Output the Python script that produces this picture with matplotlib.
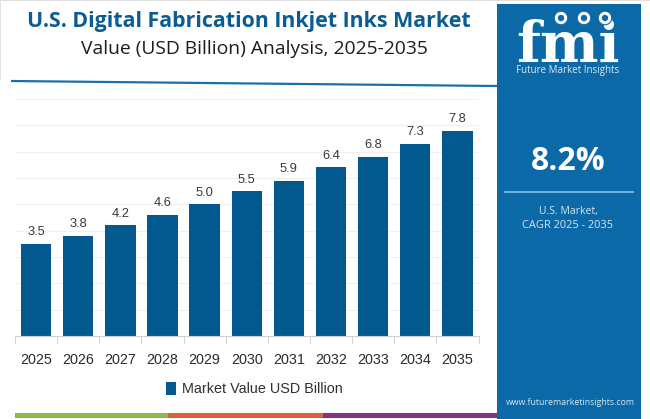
import matplotlib
matplotlib.use("Agg")
import matplotlib.pyplot as plt
from matplotlib.patches import Rectangle, Circle

years = ["2025","2026","2027","2028","2029","2030","2031","2032","2033","2034","2035"]
values = [3.5,3.8,4.2,4.6,5.0,5.5,5.9,6.4,6.8,7.3,7.8]
series_name = "Market Value USD Billion"
title = "U.S. Digital Fabrication Inkjet Inks Market"
subtitle = "Value (USD Billion) Analysis, 2025-2035"
yticks = [0,1,2,3,4,5,6,7,8,9]

W, H = 650, 419
BAR = "#03598f"; PANEL = "#0b69a8"; TITLE = "#0a5d94"
fig = plt.figure(figsize=(6.5, 4.19), dpi=100, facecolor="white")

# overlay in pixel coordinates
bg = fig.add_axes([0,0,1,1], zorder=0)
bg.set_xlim(0,W); bg.set_ylim(H,0); bg.axis("off")

# plot
ax = fig.add_axes([15/W, (H-336)/H, (478.5-15)/W, (336-99)/H], zorder=1)
ax.patch.set_alpha(0)
bars = ax.bar(years, values, width=0.72, color=BAR, label=series_name)
ax.set_xlim(-0.5, 10.5); ax.set_ylim(0, 9)
ax.set_yticks(yticks); ax.tick_params(axis="y", left=False, labelleft=False)
ax.grid(axis="y", color="#f0f0f0", lw=0.8); ax.set_axisbelow(True)
for s in ["top","left","right"]:
    ax.spines[s].set_visible(False)
ax.spines["bottom"].set_color("#cfcfcf"); ax.spines["bottom"].set_linewidth(0.8)
ax.set_xticks([i-0.5 for i in range(12)], minor=True)
ax.tick_params(axis="x", which="minor", length=6, color="#d5d5d5", width=0.8, direction="out")
ax.tick_params(axis="x", which="major", length=0, pad=12, labelsize=10.4, labelcolor="#2b2b2b")
for t in ax.get_xticklabels():
    t.set_family("Liberation Sans")
ax.bar_label(bars, labels=[f"{v:.1f}" for v in values], padding=4, fontsize=9.3,
             color="#3a3a3a", family="Liberation Sans")
ax.legend(loc="center", bbox_to_anchor=(239/463.5, (336-389)/237), frameon=False, ncols=1,
          prop={"family":"Liberation Sans","size":10.4}, handlelength=0.72, handleheight=1.0,
          handletextpad=0.4, labelcolor="#303030")

# header
bg.text(249, 21, title, ha="center", va="center", fontsize=15.4, fontweight="bold", color=TITLE, family="Open Sans")
bg.text(254, 49.5, subtitle, ha="center", va="center", fontsize=13.9, color="#1c1c1c", family="Open Sans")
bg.plot([11,497],[81,86], color="#1b6fa8", lw=1.6, solid_capstyle="butt")
# faint page edge
bg.add_patch(Rectangle((0,0),W,1.5,color="#dedede",lw=0))
bg.add_patch(Rectangle((0,0),1.2,80,color="#e2e2e2",lw=0))

# bottom stripe
for x0,x1,c in [(15,168,"#8cbb47"),(168,323,"#dd6236"),(323,497,"#8a2f83")]:
    bg.add_patch(Rectangle((x0,413),x1-x0,4.5,color=c,lw=0))

# right panel
bg.add_patch(Rectangle((497,4),144,415,color=PANEL,lw=0))
bg.text(568, 62, "fmi", ha="center", va="baseline", fontsize=40, fontweight="bold",
        color="white", family="DejaVu Serif")
for y in range(27,64,4):
    bg.plot([512,624],[y,y],color=PANEL,lw=0.8)
for cx,cy in [(561,18),(584,18),(605,18)]:
    bg.add_patch(Circle((cx,cy),6.8,fc="white",ec=PANEL,lw=0.8,zorder=3))
    bg.add_patch(Circle((cx,cy),3.2,fc=PANEL,lw=0,zorder=4))
bg.text(568, 70.5, "Future Market Insights", ha="center", va="center", fontsize=7.0, color="#dce9f3", family="Open Sans")
bg.text(568, 161, "8.2%", ha="center", va="center", fontsize=23, fontweight="bold", color="white", family="Open Sans")
bg.plot([504.5,633],[192,192], color="#6fb0dc", lw=1.4)
bg.text(568, 211, "U.S. Market,", ha="center", va="center", fontsize=7.5, color="#d5e6f2", family="Open Sans")
bg.text(568, 225, "CAGR 2025 - 2035", ha="center", va="center", fontsize=7.9, color="#d5e6f2", family="Open Sans")
bg.text(570, 402, "www.futuremarketinsights.com", ha="center", va="center", fontsize=6.3, color="#d5e6f2", family="Open Sans")

fig.savefig("out.png", dpi=100, facecolor="white")
